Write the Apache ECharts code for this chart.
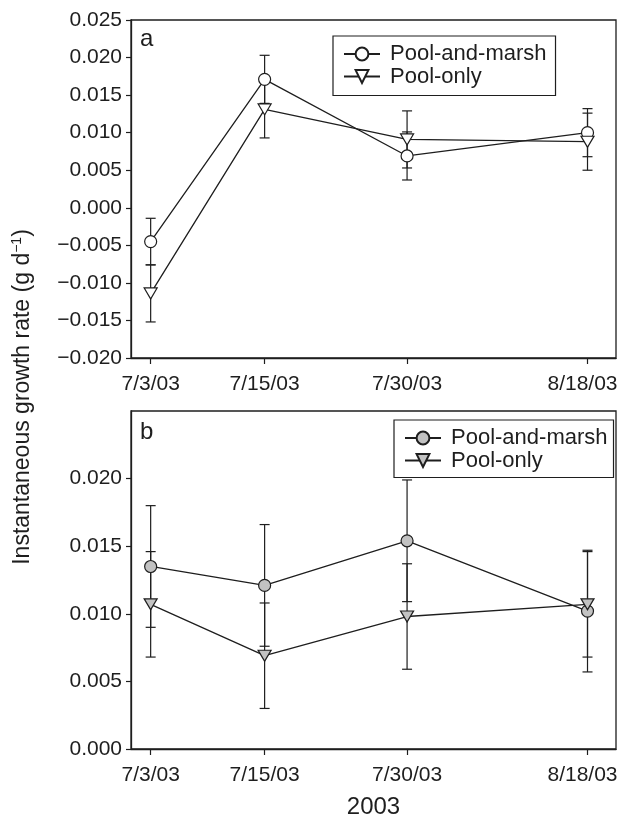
<!DOCTYPE html>
<html><head><meta charset="utf-8">
<script src="https://cdn.jsdelivr.net/npm/echarts@6/dist/echarts.min.js"></script>
<style>html,body{margin:0;padding:0;background:#fff}#c{width:617px;height:818px}</style>
</head><body><div id="c"></div>
<script>
// ---- data ----
const dates = ['7/3/03', '7/15/03', '7/30/03', '8/18/03'];
const seriesNames = ['Pool-and-marsh', 'Pool-only'];
const panelLabels = ['a', 'b'];
// panel a
const poolMarshA = [-0.0045, 0.0171, 0.0069, 0.0100];
const poolMarshAErr = [0.0031, 0.0032, 0.0032, 0.0032];
const poolOnlyA = [-0.0114, 0.0131, 0.0091, 0.0088];
const poolOnlyAErr = [0.0038, 0.0038, 0.0038, 0.0038];
// panel b
const poolMarshB = [0.0135, 0.0121, 0.0154, 0.0102];
const poolMarshBErr = [0.0045, 0.0045, 0.0045, 0.0045];
const poolOnlyB = [0.0107, 0.0069, 0.0098, 0.0107];
const poolOnlyBErr = [0.0039, 0.0039, 0.0039, 0.0039];
// tick labels
const yTicksA = [-0.020, -0.015, -0.010, -0.005, 0.000, 0.005, 0.010, 0.015, 0.020, 0.025];
const yTicksB = [0.000, 0.005, 0.010, 0.015, 0.020];
const xTitle = '2003';
const yTitleMain = 'Instantaneous growth rate (g d';
const yTitleSup = '\u22121';

// ---- helpers ----
const FONT = 'Liberation Sans, Arial, Helvetica, sans-serif';
const INK = '#1e1e1e';
function dayStart() {
  const p = dates[0].split('/').map(Number);
  return Date.UTC(2000 + p[2], p[0] - 1, p[1]);
}
function dayOf(s) {
  const p = s.split('/').map(Number);
  return Math.round((Date.UTC(2000 + p[2], p[0] - 1, p[1]) - dayStart()) / 864e5);
}
const days = dates.map(dayOf);
const fmtY = v => (v < 0 ? '\u2212' : '') + Math.abs(v).toFixed(3);
const fmtX = v => {
  const i = days.indexOf(Math.round(v));
  if (i < 0) return '';
  return i === dates.length - 1 ? '{r|' + dates[i] + '}' : dates[i];
};

const circleSym = 'circle';
const triSym = 'path://M0,0L12,0L6,10Z';

function lineSeries(name, vals, panel, sym, fill) {
  const tri = sym !== 'circle';
  return {
    type: 'line', name, xAxisIndex: panel, yAxisIndex: panel,
    data: vals.map((v, i) => [days[i], v]),
    symbol: sym, symbolSize: tri ? [13, 11] : 12, showAllSymbol: true,
    itemStyle: { color: fill, borderColor: INK, borderWidth: 1.2 },
    lineStyle: { color: INK, width: 1.3 },
    emphasis: { disabled: true }, z: 3, silent: true, animation: false
  };
}
function errSeries(vals, errs, panel) {
  return {
    type: 'custom', xAxisIndex: panel, yAxisIndex: panel, z: 2, silent: true,
    data: vals.map((v, i) => [days[i], v - errs[i], v + errs[i]]),
    encode: { x: 0, y: [1, 2] },
    renderItem(params, api) {
      const x = api.value(0), lo = api.value(1), hi = api.value(2);
      const a = api.coord([x, hi]), b = api.coord([x, lo]);
      const w = 5, st = { stroke: INK, lineWidth: 1.2 };
      return { type: 'group', children: [
        { type: 'line', shape: { x1: a[0], y1: a[1], x2: b[0], y2: b[1] }, style: st },
        { type: 'line', shape: { x1: a[0] - w, y1: a[1], x2: a[0] + w, y2: a[1] }, style: st },
        { type: 'line', shape: { x1: b[0] - w, y1: b[1], x2: b[0] + w, y2: b[1] }, style: st }
      ]};
    }
  };
}

const axisLine = { show: true, onZero: false, lineStyle: { color: INK, width: 1.3 } };
function xAxis(panel) {
  return {
    type: 'value', gridIndex: panel, min: -2.07, max: 49.0,
    splitLine: { show: false }, axisLine,
    axisTick: { show: true, length: 6, inside: false, customValues: days, lineStyle: { color: INK, width: 1.2 } },
    axisLabel: { show: true, customValues: days, formatter: fmtX, fontFamily: FONT, fontSize: 21, color: INK, margin: 16,
      rich: { r: { fontFamily: FONT, fontSize: 21, color: INK, padding: [0, 10, 0, 0] } } },
    name: panel === 1 ? xTitle : '', nameLocation: 'middle', nameGap: 46,
    nameTextStyle: { fontFamily: FONT, fontSize: 24, color: INK }
  };
}
function yAxis(panel, ticks, min, max) {
  return {
    type: 'value', gridIndex: panel, min, max, interval: 0.005,
    splitLine: { show: false }, axisLine,
    axisTick: { show: true, length: 5, customValues: ticks, lineStyle: { color: INK, width: 1.2 } },
    axisLabel: { show: true, customValues: ticks, formatter: fmtY, fontFamily: FONT, fontSize: 21, color: INK, margin: 9 }
  };
}
function legend(panel, left, top, padding) {
  const suffix = panel === 1 ? ' (b)' : '';
  return {
    orient: 'vertical', left, top, padding, itemGap: 0.5, itemWidth: 36, itemHeight: 16,
    data: seriesNames.map(n => n + suffix), formatter: n => n.replace(' (b)', ''),
    borderColor: INK, borderWidth: 1.2, selectedMode: false, backgroundColor: '#fff',
    textStyle: { fontFamily: FONT, fontSize: 22, color: INK, lineHeight: 20, padding: [0, 0, 0, 5] }
  };
}

const chart = echarts.init(document.getElementById('c'), null, { renderer: 'canvas' });
chart.setOption({
  animation: false,
  backgroundColor: '#fff',
  grid: [
    { left: 131, top: 20, width: 485, height: 338, show: true, borderColor: INK, borderWidth: 1.3, outerBoundsMode: 'none', containLabel: false },
    { left: 131, top: 411, width: 485, height: 338, show: true, borderColor: INK, borderWidth: 1.3, outerBoundsMode: 'none', containLabel: false }
  ],
  xAxis: [xAxis(0), xAxis(1)],
  yAxis: [yAxis(0, yTicksA, -0.020, 0.025), yAxis(1, yTicksB, 0, 0.025)],
  legend: [legend(0, 333, 36, [7, 9, 8, 10]), legend(1, 394, 420, [7, 6, 6, 10])],
  series: [
    errSeries(poolMarshA, poolMarshAErr, 0),
    errSeries(poolOnlyA, poolOnlyAErr, 0),
    lineSeries(seriesNames[0], poolMarshA, 0, circleSym, '#ffffff'),
    lineSeries(seriesNames[1], poolOnlyA, 0, triSym, '#ffffff'),
    errSeries(poolMarshB, poolMarshBErr, 1),
    errSeries(poolOnlyB, poolOnlyBErr, 1),
    lineSeries(seriesNames[0] + ' (b)', poolMarshB, 1, circleSym, '#c2c2c2'),
    lineSeries(seriesNames[1] + ' (b)', poolOnlyB, 1, triSym, '#c2c2c2')
  ],
  graphic: [
    { type: 'text', x: 140, y: 39, silent: true,
      style: { text: panelLabels[0], font: '24px ' + FONT, fill: INK, verticalAlign: 'middle', align: 'left' } },
    { type: 'text', x: 140, y: 432, silent: true,
      style: { text: panelLabels[1], font: '24px ' + FONT, fill: INK, verticalAlign: 'middle', align: 'left' } },
    { type: 'text', x: 23, y: 397, rotation: Math.PI / 2, silent: true,
      style: {
        text: '{m|' + yTitleMain + '}{s|' + yTitleSup + '}{m|)}',
        align: 'center', verticalAlign: 'middle',
        rich: {
          m: { fontFamily: FONT, fontSize: 23, fill: INK, color: INK, lineHeight: 26 },
          s: { fontFamily: FONT, fontSize: 14, fill: INK, color: INK, verticalAlign: 'top', lineHeight: 16 }
        }
      } }
  ]
});
</script></body></html>
